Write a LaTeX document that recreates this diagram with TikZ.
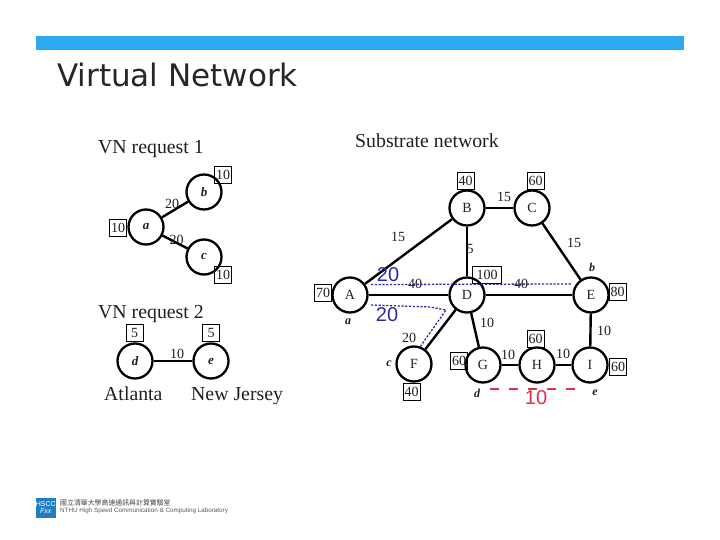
\documentclass[tikz,border=0pt]{standalone}
\usepackage{fontspec}
\setmainfont{Liberation Serif}
\newfontfamily\titlefont{DejaVu Sans}
\newfontfamily\logofont{Liberation Sans}
\newfontfamily\cjk{Noto Sans CJK TC}
\definecolor{barblue}{HTML}{2BAAF2}
\definecolor{logoblue}{HTML}{1F7FC4}
\definecolor{mapblue}{HTML}{2A2AA8}
\definecolor{mapred}{HTML}{E0304A}
\definecolor{inkgrey}{HTML}{202020}
\tikzset{
  x=1pt,y=-1pt,
  vnode/.style={circle,draw=black,line width=2.3pt,fill=white,minimum size=35pt,inner sep=0pt,font=\fontsize{14}{14}\selectfont,text=inkgrey},
  vvnode/.style={vnode,font=\fontsize{13}{13}\selectfont\itshape\bfseries},
  link/.style={line width=2.4pt,draw=black},
  capbox/.style={draw=black,line width=0.8pt,minimum height=17pt,minimum width=17pt,inner sep=0pt,font=\fontsize{14}{14}\selectfont,text=inkgrey},
  num/.style={font=\fontsize{14}{14}\selectfont,text=inkgrey,inner sep=0pt},
  vlab/.style={font=\fontsize{12}{12}\selectfont\itshape\bfseries,text=inkgrey,inner sep=0pt},
  head/.style={font=\fontsize{19.8}{20}\selectfont,text=inkgrey,inner sep=0pt,anchor=base west},
  map/.style={draw=mapblue,line width=1.3pt,dash pattern=on 2.2pt off 1.6pt},
  mapnum/.style={font=\logofont\fontsize{20}{20}\selectfont,text=mapblue,inner sep=0pt},
}
\begin{document}
\begin{tikzpicture}
\useasboundingbox (0,0) rectangle (720,540);
\fill[white] (0,0) rectangle (720,540);
\fill[barblue] (36,36) rectangle (684,50.5);
\node[font=\titlefont\fontsize{31}{31}\selectfont,anchor=west,inner sep=0pt,text=black!85] (title) at (57,75) {Virtual Network};

% headings
\node[head] (h1) at (98,154) {VN request 1};
\node[head] (h2) at (98,318) {VN request 2};
\node[head] (h3) at (355,148) {Substrate network};
\node[head] (atl) at (104,400) {Atlanta};
\node[head] (nj) at (191,400) {New Jersey};

% virtual nodes
\node[vvnode] (a) at (146,227) {a};
\node[vvnode] (b) at (204,192) {b};
\node[vvnode] (c) at (204,257) {c};
\node[vvnode] (d) at (135,361) {d};
\node[vvnode] (e) at (211,361) {e};
\draw[link] (a) -- (b);
\draw[link] (a) -- (c);
\draw[link] (d) -- (e);
\node[capbox] (ca) at (118,227.5) {10};
\node[capbox] (cb) at (223,175) {10};
\node[capbox] (cc) at (223,274.5) {10};
\node[capbox] (cd) at (134.5,332.5) {5};
\node[capbox] (ce) at (211,332.5) {5};
\node[num] at (172,204) {20};
\node[num] at (176.5,240) {20};
\node[num] at (177,354) {10};

% substrate nodes
\node[vnode] (A) at (350,295) {A};
\node[vnode] (B) at (467,208) {B};
\node[vnode] (C) at (532,208) {C};
\node[vnode] (D) at (467,295) {D};
\node[vnode] (E) at (591,295) {E};
\node[vnode] (F) at (414,364) {F};
\node[vnode] (G) at (483,365) {G};
\node[vnode] (H) at (537,365) {H};
\node[vnode] (I) at (590,365) {I};
\draw[link] (A) -- (B);
\draw[link] (B) -- (C);
\draw[link] (C) -- (E);
\draw[link] (B) -- (D);
\draw[link] (A) -- (D);
\draw[link] (D) -- (E);
\draw[link] (D) -- (F);
\draw[link] (D) -- (G);
\draw[link] (G) -- (H);
\draw[link] (H) -- (I);
\draw[link] (E) -- (I);

% capacities
\node[capbox] (cB) at (465.5,180.5) {40};
\node[capbox] (cC) at (535.5,180.5) {60};
\node[capbox] (cA) at (323,292.5) {70};
\node[capbox,minimum width=29pt] (cD) at (487,274.5) {100};
\node[capbox] (cE) at (617.5,292) {80};
\node[capbox] (cF) at (411.5,392) {40};
\node[capbox] (cG) at (459,361) {60};
\node[capbox] (cH) at (535.5,338.5) {60};
\node[capbox] (cI) at (618,367) {60};

% link labels
\node[num] at (398,237) {15};
\node[num] at (504,197) {15};
\node[num] at (574,243) {15};
\node[num] at (470,249) {5};
\node[num] at (415,284) {40};
\node[num] at (521,284) {40};
\node[num] at (487,323) {10};
\node[num] at (604,331) {10};
\node[num] at (409,338) {20};
\node[num] at (508,355) {10};
\node[num] at (563,354) {10};

% mapping labels
\node[vlab] at (348,322) {a};
\node[vlab] at (592,267) {b};
\node[vlab] at (389,364) {c};
\node[vlab] at (477,393) {d};
\node[vlab] at (595,393) {e};

% mappings
\coordinate (m1s) at (371,284.5);
\coordinate (m1t) at (571,284);
\draw[map] (m1s) -- (m1t);
\coordinate (m2s) at (371,305);
\coordinate (m2b) at (430,307);
\coordinate (m2m) at (446,310);
\coordinate (m2t) at (420,347);
\draw[map] (m2s) -- (m2b) -- (m2m) -- (m2t);
\node[mapnum] at (388,275) {20};
\node[mapnum] at (387,315) {20};
\coordinate (rs) at (490,389);
\coordinate (rt) at (585,389);
\draw[draw=mapred,line width=1.4pt,dash pattern=on 9pt off 10pt] (rs) -- (rt);
\node[font=\logofont\fontsize{20}{20}\selectfont,text=mapred,inner sep=0pt] at (536,398) {10};

% footer
\node[fill=logoblue,minimum width=20pt,minimum height=20pt,inner sep=0pt,anchor=north west,text=white,font=\logofont\fontsize{7}{8}\selectfont,align=center] (logo) at (35.5,497.5) {HSCC\\[-1pt]\itshape Fxx};
\node[anchor=west,inner sep=0pt,font=\cjk\fontsize{6.9}{7}\selectfont,text=black!75] (f1) at (60,502.5) {國立清華大學高速通訊與計算實驗室};
\node[anchor=west,inner sep=0pt,font=\logofont\fontsize{6.3}{7}\selectfont,text=black!65] (f2) at (60,511) {NTHU High Speed Communication \& Computing Laboratory};
\end{tikzpicture}
\end{document}
